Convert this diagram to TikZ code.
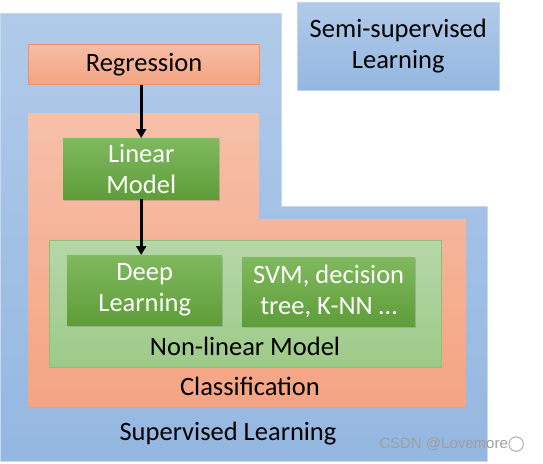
\documentclass[tikz,border=0pt]{standalone}
\usepackage{fontspec}
\setmainfont{Carlito}
\newfontfamily\markfont{Liberation Sans}
\newfontfamily\symbfont{DejaVu Sans}
\usepackage{xcolor}
\usetikzlibrary{arrows.meta,shadows}

\definecolor{bluetop}{HTML}{B1CAE9}
\definecolor{bluebot}{HTML}{94B7E1}
\definecolor{orangetop}{HTML}{F6C0A9}
\definecolor{orangebot}{HTML}{F4A482}
\definecolor{orangeline}{HTML}{F0915F}
\definecolor{greentop}{HTML}{B6D7A8}
\definecolor{greenbot}{HTML}{9DCA89}
\definecolor{greenline}{HTML}{8CC077}
\definecolor{dgreentop}{HTML}{80B95E}
\definecolor{dgreenbot}{HTML}{5E9D39}

\begin{document}
\begin{tikzpicture}[x=1pt, y=-1pt,
    box/.style={rectangle, anchor=north west, inner sep=0pt, align=center, font=\fontsize{26.5}{31}\selectfont},
    bluebox/.style={box, top color=bluetop, bottom color=bluebot, draw=bluetop!80!white, line width=0.6pt},
    redbox/.style={box, top color=orangetop!90!orangebot, bottom color=orangebot, draw=orangeline, line width=1pt},
    greenbox/.style={box, top color=dgreentop, bottom color=dgreenbot, text=white,
        drop shadow={opacity=0.35, shadow xshift=1pt, shadow yshift=-1.5pt}},
    label/.style={font=\fontsize{26.5}{31}\selectfont},
    arrow/.style={-{Triangle[length=9pt, width=10pt]}, line width=3pt}
]
\useasboundingbox (0,0) rectangle (543,463);

% Supervised Learning
\shade[top color=bluetop, bottom color=bluebot, draw=bluetop!70!white, line width=0.6pt]
    (0,13) -- (281,13) -- (281,206) -- (487,206) -- (487,461) -- (0,461) -- cycle;

% Semi-supervised Learning
\node[bluebox, minimum width=202pt, minimum height=88pt] (semi) at (297,2) {Semi-supervised\\Learning};

% Classification
\shade[top color=orangetop, bottom color=orangebot]
    (28,113) -- (259,113) -- (259,219) -- (466,219) -- (466,407) -- (28,407) -- cycle;

% Regression
\node[redbox, minimum width=231pt, minimum height=40pt] (reg) at (28,44) {Regression};

% Linear Model
\node[greenbox, minimum width=156pt, minimum height=61pt] (lin) at (63,138) {Linear\\Model};

% Non-linear Model
\shade[top color=greentop, bottom color=greenbot, draw=greenline, line width=0.8pt]
    (49,240) rectangle (441,367);
\node[greenbox, minimum width=155pt, minimum height=70pt] (deep) at (67,255) {Deep\\Learning};
\node[greenbox, minimum width=173pt, minimum height=69pt] (svm) at (242,257) {SVM, decision\\tree, K-NN \dots};

% Arrows
\draw[arrow] (lin.north |- reg.south) -- (lin.north);
\draw[arrow] (lin.south) -- (lin.south |- deep.north);

% Labels
\node[label] (nonlin) at (245,346) {Non-linear Model};
\node[label] (cls) at (250,386) {Classification};
\node[label] (sup) at (228,434) {Supervised Learning};
\node[text=gray!75, font=\fontsize{15}{18}\selectfont] (mark) at (452,445) {\markfont CSDN @Lovemore\symbfont ◯};

\end{tikzpicture}
\end{document}
